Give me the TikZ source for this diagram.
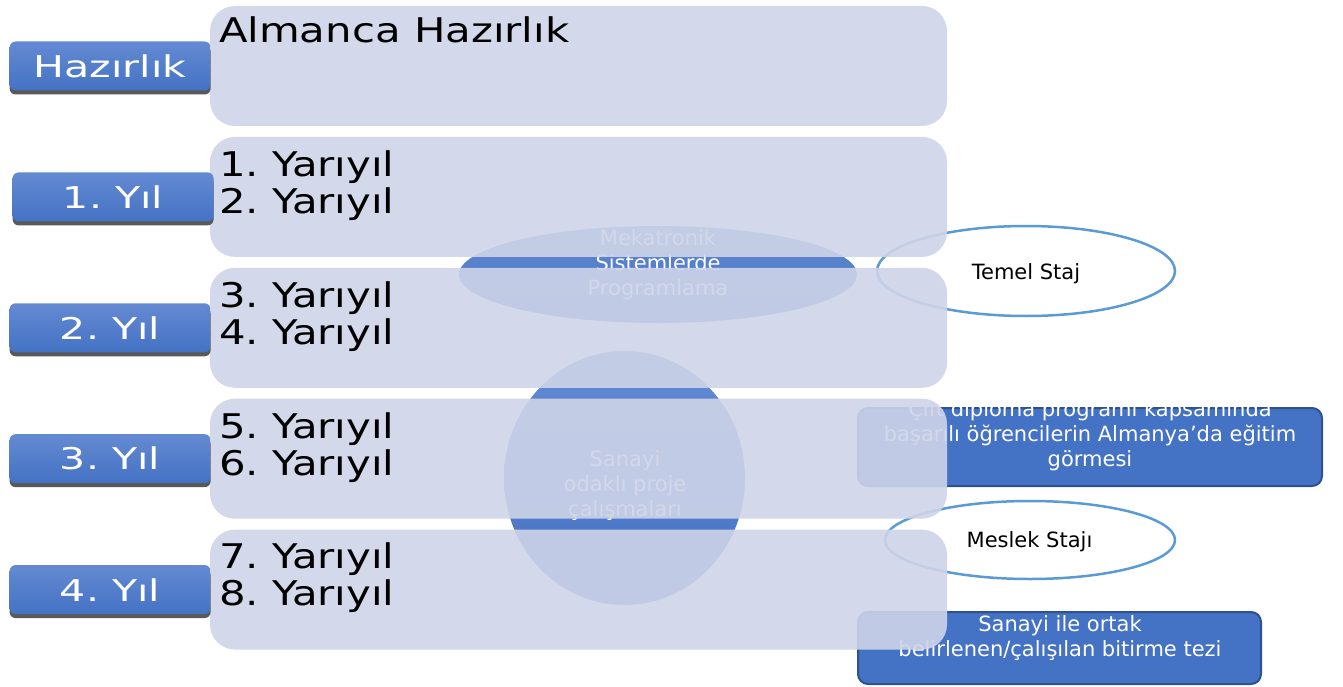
\documentclass[tikz,border=0pt]{standalone}
\usepackage{fontspec}
\setmainfont{DejaVu Sans}
\newfontfamily\termfont[FakeStretch=1.23]{DejaVu Sans}
\newfontfamily\yearfont[FakeStretch=1.37]{DejaVu Sans}
\usetikzlibrary{shapes.geometric, shadows, positioning}
\frenchspacing
\definecolor{accent}{RGB}{68,114,196}
\definecolor{accentlight}{RGB}{100,138,210}
\definecolor{accentdark}{RGB}{47,82,143}
\definecolor{panelfill}{RGB}{206,212,232}
\definecolor{ringblue}{RGB}{91,155,213}
\tikzstyle{year} = [rectangle, rounded corners=6pt, minimum width=201pt,
  minimum height=49pt, inner sep=0pt, top color=accentlight,
  bottom color=accent, text=white,
  font=\yearfont\fontsize{30}{34}\selectfont,
  drop shadow={shadow xshift=0pt, shadow yshift=-4pt, fill=black!65, opacity=1}]
\tikzstyle{term} = [rectangle, rounded corners=25pt, minimum width=737pt,
  minimum height=120pt, inner sep=0pt, fill=panelfill, fill opacity=0.9]
\tikzstyle{termtext} = [inner sep=0pt, align=left,
  font=\termfont\fontsize{34}{37}\selectfont]
\tikzstyle{course} = [ellipse, inner sep=0pt, top color=accentlight,
  bottom color=accent]
\tikzstyle{coursetext} = [inner sep=0pt, align=center, text=white,
  font=\fontsize{21}{25}\selectfont]
\tikzstyle{staj} = [ellipse, inner sep=0pt, draw=ringblue, line width=2.5pt,
  fill=white]
\tikzstyle{stajtext} = [inner sep=0pt, font=\fontsize{21}{25}\selectfont]
\tikzstyle{note} = [rectangle, rounded corners=10pt, inner sep=0pt,
  fill=accent, draw=accentdark, line width=2pt]
\tikzstyle{notetext} = [inner sep=0pt, align=center, text=white,
  font=\fontsize{21}{25}\selectfont]

\begin{document}
\begin{tikzpicture}[x=1pt, y=-1pt]
\useasboundingbox (0,0) rectangle (1343,687);

%% shapes behind the panels
\node (mekatronik) [course, minimum width=398pt, minimum height=97pt] at (658,274.5) {};
\node (mekatronikText) [coursetext] at (658,265) {Mekatronik\\Sistemlerde\\Programlama};
\node (proje) [course, minimum width=241pt, minimum height=254pt] at (624.5,478) {};
\node (projeText) [coursetext] at (625,486) {Sanayi\\odaklı proje\\çalışmaları};
\node (temelStaj) [staj, minimum width=298pt, minimum height=90pt] at (1026,271) {};
\node (temelText) [stajtext] at (1026,273.5) {Temel Staj};
\node (meslekStaj) [staj, minimum width=290pt, minimum height=78pt] at (1030,540) {};
\node (meslekText) [stajtext] at (1029.5,542) {Meslek Stajı};
\node (ciftDiploma) [note, minimum width=464pt, minimum height=78pt] at (1090,447) {};
\node (ciftText) [notetext] at (1090,435.5) {Çift diploma programı kapsamında\\başarılı öğrencilerin Almanya’da eğitim\\görmesi};
\node (bitirme) [note, minimum width=403pt, minimum height=72pt] at (1059.5,648) {};
\node (bitirmeText) [notetext] at (1060,638.5) {Sanayi ile ortak\\belirlenen/çalışılan bitirme tezi};

%% panels
\node (prep) [term] at (578.5,66) {};
\node (y1) [term, below=10.5pt of prep] {};
\node (y2) [term, below=10.5pt of y1] {};
\node (y3) [term, below=10.5pt of y2] {};
\node (y4) [term, below=10.5pt of y3] {};

\node (prepText) [termtext, below right=11pt and 9pt of prep.north west] {Almanca Hazırlık};
\node (y1Text) [termtext, below right=13.5pt and 9pt of y1.north west] {1. Yarıyıl\\2. Yarıyıl};
\node (y2Text) [termtext, below right=13.5pt and 9pt of y2.north west] {3. Yarıyıl\\4. Yarıyıl};
\node (y3Text) [termtext, below right=13.5pt and 9pt of y3.north west] {5. Yarıyıl\\6. Yarıyıl};
\node (y4Text) [termtext, below right=13.5pt and 9pt of y4.north west] {7. Yarıyıl\\8. Yarıyıl};

%% year labels
\node (prepLabel) [year, left=-1pt of prep] {Hazırlık};
\node (y1Label) [year, left=-4pt of y1] {1. Yıl};
\node (y2Label) [year, left=-1pt of y2] {2. Yıl};
\node (y3Label) [year, left=-1pt of y3] {3. Yıl};
\node (y4Label) [year, left=-1pt of y4] {4. Yıl};

\end{tikzpicture}
\end{document}
